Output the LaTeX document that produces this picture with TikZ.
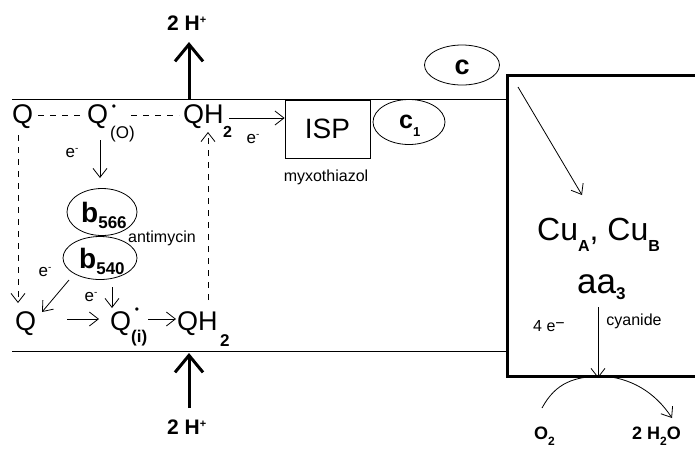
\documentclass[tikz,border=0pt]{standalone}
\usepackage{fontspec}
\setmainfont{Liberation Sans}
\usetikzlibrary{arrows.meta,shapes.geometric}
\newcommand{\fs}[1]{\fontsize{#1}{#1}\selectfont}
\begin{document}
\begin{tikzpicture}[x=1pt,y=-1pt,
  txt/.style={inner sep=0pt, anchor=base west, font=\fs{27}},
  subb/.style={inner sep=0pt, anchor=base west, font=\bfseries\fs{16}},
  subn/.style={inner sep=0pt, anchor=base west, font=\fs{17}},
  lab/.style={inner sep=0pt, font=\fs{16}},
  elab/.style={inner sep=0pt, font=\fs{17}},
  dotn/.style={inner sep=0pt, font=\fs{12}},
  bold/.style={inner sep=0pt, anchor=base west, font=\bfseries\fs{21}},
  ln/.style={line width=0.8pt},
  arr/.style={line width=0.8pt, -{Straight Barb[length=9pt,width=14pt,line width=0.8pt]}},
  dsh/.style={line width=0.8pt, dash pattern=on 6pt off 6pt},
  bigarr/.style={line width=3pt, -{Straight Barb[length=17pt,width=28pt,line width=3pt]}},
  ell/.style={draw, ellipse, line width=0.8pt, inner sep=0pt},
]
\useasboundingbox (0,0) rectangle (695,448);

% cytochrome oxidase box
\node[draw, line width=3pt, minimum width=220pt, minimum height=301pt, anchor=north west, inner sep=0pt] (box) at (506,74) {};

% membrane
\coordinate (tl) at (12,99);
\coordinate (bl) at (12,351);
\draw[ln] (tl) -- (tl -| box.west);
\draw[ln] (bl) -- (bl -| box.west);

% proton arrows
\node[bold] (hpt) at (167,30) {2 H\raisebox{7pt}{\fs{11}+}};
\node[bold] (hpb) at (167,434) {2 H\raisebox{7pt}{\fs{11}+}};
\coordinate (ut) at (189,99);
\coordinate (ub) at (189,408);
\draw[bigarr] (ut) -- (ut |- 0,42);
\draw[bigarr] (ub) -- (ub |- 0,353);

% top row Q pool
\node[txt] (Q1) at (12,123) {Q};
\node[txt] (Qo) at (87,123) {Q};
\node[dotn] (Qodot) at (114,108) {•};
\node[subn] (Qosub) at (110,138) {(O)};
\node[txt] (QHt) at (183,123) {QH};
\node[subb] (QHtsub) at (223,137) {2};

% bottom row
\node[txt] (Q2) at (15,330) {Q};
\node[txt] (Qi) at (110,330) {Q};
\node[dotn] (Qidot) at (137,311) {•};
\node[subb, font=\bfseries\fs{17}] (Qisub) at (131,342) {(i)};
\node[txt] (QHb) at (177,330) {QH};
\node[subb, font=\bfseries\fs{17}] (QHbsub) at (220,346) {2};

% dashed connections
\coordinate (d1a) at (38,115);
\coordinate (d1b) at (83,115);
\coordinate (d2a) at (131,115);
\coordinate (d2b) at (179,115);
\draw[dsh] (d1a) -- (d1b);
\draw[dsh] (d2a) -- (d2b);
\coordinate (dl) at (18,135);
\draw[dsh, -{Straight Barb[length=9pt,width=14pt,line width=0.8pt]}] (dl) -- (dl |- 0,303);
\coordinate (dr) at (208,300);
\draw[dsh, -{Straight Barb[length=9pt,width=14pt,line width=0.8pt]}] (dr) -- (dr |- 0,132);

% cytochrome b
\node[ell, minimum width=70pt, minimum height=47pt] (b566) at (102,212) {};
\node[inner sep=0pt, anchor=base west, font=\bfseries\fs{28}] (b566t) at (81,222) {b\raisebox{-6pt}{\fs{17}566}};
\node[ell, minimum width=74pt, minimum height=43pt] (b540) at (100,258) {};
\node[inner sep=0pt, anchor=base west, font=\bfseries\fs{28}] (b540t) at (79,268) {b\raisebox{-6pt}{\fs{17}540}};
\node[lab, anchor=west] (anti) at (128,238) {antimycin};

% electron arrows in Q cycle
\coordinate (qoa) at (100,140);
\draw[arr] (qoa) -- (qoa |- 0,178);
\node[elab] (e1) at (72,153) {e\raisebox{6pt}{\fs{10}-}};
\coordinate (dga) at (69,280);
\coordinate (dgb) at (42,312);
\draw[arr] (dga) -- (dgb);
\node[elab] (e2) at (45,272) {e\raisebox{6pt}{\fs{10}-}};
\coordinate (bia) at (112,287);
\draw[arr] (bia) -- (bia |- 0,308);
\node[elab] (e3) at (91,297) {e\raisebox{6pt}{\fs{10}-}};
\coordinate (h1a) at (67,319);
\coordinate (h1b) at (99,319);
\draw[arr] (h1a) -- (h1b);
\coordinate (h2a) at (148,319);
\coordinate (h2b) at (176,319);
\draw[arr] (h2a) -- (h2b);

% ISP, c1, c
\node[draw, line width=0.8pt, minimum width=85pt, minimum height=58pt, inner sep=0pt, font=\fs{28}] (ISP) at (327.5,129) {ISP};
\coordinate (ia) at (229,118);
\draw[arr] (ia) -- (ISP.west |- ia);
\node[elab] (e4) at (253,139) {e\raisebox{6pt}{\fs{10}-}};
\node[lab] (myx) at (326,177) {myxothiazol};
\node[ell, minimum width=72pt, minimum height=45pt] (c1) at (409,122) {};
\node[inner sep=0pt, anchor=base west, font=\bfseries\fs{25}] (c1t) at (399,128) {c\raisebox{-8pt}{\fs{13}1}};
\node[ell, minimum width=75pt, minimum height=40pt] (c) at (462,65) {};
\node[inner sep=0pt, font=\bfseries\fs{27}] (ct) at (462,67) {c};

% inside oxidase
\coordinate (ca) at (518,87);
\coordinate (cb) at (582,195);
\draw[arr] (ca) -- (cb);
\node[inner sep=0pt, anchor=base west, font=\fs{32}] (cu) at (537,240) {Cu\raisebox{-11pt}{\bfseries\fs{16}A}, Cu\raisebox{-11pt}{\bfseries\fs{16}B}};
\node[inner sep=0pt, anchor=base west, font=\fs{35}] (aa) at (577,293) {aa\raisebox{-6pt}{\bfseries\fs{17}3}};
\node[lab] (cyan) at (634,321) {cyanide};
\node[lab] (fe) at (549,326) {4 e\raisebox{3pt}{−}};
\coordinate (oa) at (598,307);
\draw[arr] (oa) -- (oa |- box.south);

% oxygen reduction
\node[inner sep=0pt, anchor=base west, font=\bfseries\fs{18}] (o2) at (534,439) {O\raisebox{-6pt}{\fs{12}2}};
\node[inner sep=0pt, anchor=base west, font=\bfseries\fs{18}] (h2o) at (632,439) {2 H\raisebox{-6pt}{\fs{12}2}O};
\draw[ln, -{Straight Barb[length=9pt,width=14pt,line width=0.8pt]}] (542,408) .. controls (556,382) and (575,377) .. (600,376) .. controls (630,377) and (655,392) .. (672,418);
\end{tikzpicture}
\end{document}
